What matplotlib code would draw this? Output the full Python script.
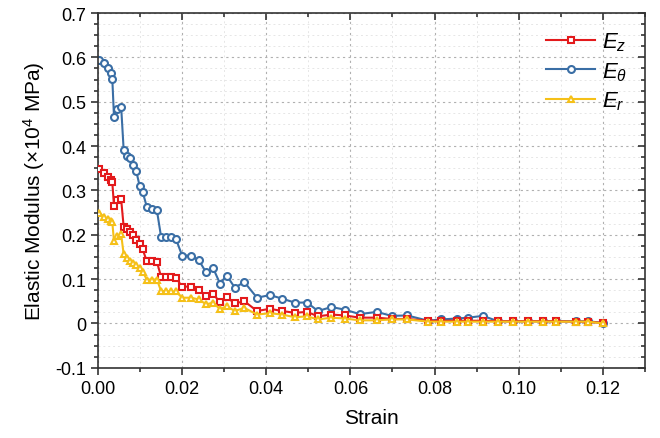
import numpy as np
import matplotlib
matplotlib.use('Agg')
import matplotlib.pyplot as plt
from matplotlib.ticker import MultipleLocator, AutoMinorLocator

FIG_SIZE = (6.6, 4.39)
DPI = 100
FONT_SIZE_TICKS = 13
FONT_SIZE_AXIS_LABEL = 15

# strain values shared by all three series
strain = [0.0003, 0.0014, 0.0024, 0.0030, 0.0034, 0.0038, 0.0044, 0.0055, 0.0061, 0.0068,
          0.0076, 0.0083, 0.0091, 0.0099, 0.0106, 0.0116, 0.0128, 0.0140, 0.0150, 0.0162,
          0.0173, 0.0185, 0.0200, 0.0221, 0.0240, 0.0257, 0.0274, 0.0290, 0.0306, 0.0325,
          0.0348, 0.0378, 0.0409, 0.0437, 0.0468, 0.0497, 0.0523, 0.0555, 0.0587, 0.0622,
          0.0663, 0.0698, 0.0735, 0.0785, 0.0816, 0.0853, 0.0880, 0.0915, 0.0951, 0.0986,
          0.1022, 0.1058, 0.1090, 0.1137, 0.1165, 0.1200]

E_z = [0.348, 0.339, 0.331, 0.324, 0.318, 0.265, 0.278, 0.280, 0.218, 0.212,
       0.206, 0.199, 0.189, 0.178, 0.168, 0.140, 0.140, 0.139, 0.105, 0.105,
       0.105, 0.103, 0.083, 0.083, 0.075, 0.062, 0.066, 0.048, 0.060, 0.045,
       0.050, 0.028, 0.033, 0.028, 0.024, 0.026, 0.016, 0.020, 0.018, 0.013,
       0.013, 0.010, 0.010, 0.006, 0.006, 0.006, 0.006, 0.006, 0.005, 0.005,
       0.005, 0.005, 0.005, 0.004, 0.004, 0.001]

E_theta = [0.593, 0.587, 0.576, 0.564, 0.551, 0.466, 0.484, 0.489, 0.391, 0.378,
           0.373, 0.358, 0.343, 0.310, 0.297, 0.263, 0.259, 0.255, 0.195, 0.194,
           0.194, 0.191, 0.153, 0.153, 0.142, 0.115, 0.124, 0.090, 0.108, 0.081,
           0.093, 0.058, 0.064, 0.056, 0.047, 0.047, 0.028, 0.037, 0.031, 0.021,
           0.026, 0.017, 0.018, 0.006, 0.009, 0.011, 0.013, 0.017, 0.005, 0.005,
           0.005, 0.005, 0.005, 0.005, 0.005, 0.001]

E_r = [0.250, 0.240, 0.235, 0.232, 0.228, 0.185, 0.197, 0.201, 0.156, 0.147,
       0.141, 0.137, 0.131, 0.124, 0.117, 0.099, 0.099, 0.099, 0.073, 0.073,
       0.072, 0.072, 0.058, 0.058, 0.054, 0.043, 0.047, 0.032, 0.039, 0.028,
       0.035, 0.020, 0.023, 0.020, 0.014, 0.016, 0.009, 0.013, 0.011, 0.007,
       0.007, 0.009, 0.009, 0.004, 0.004, 0.004, 0.004, 0.004, 0.004, 0.004,
       0.004, 0.004, 0.004, 0.004, 0.004, 0.000]

plt.rcParams['font.family'] = ['Liberation Sans', 'DejaVu Sans']
plt.rcParams['mathtext.fontset'] = 'custom'
plt.rcParams['mathtext.it'] = 'Liberation Sans:italic'
plt.rcParams['mathtext.rm'] = 'Liberation Sans'

fig = plt.figure(figsize=FIG_SIZE, dpi=DPI)
ax = fig.add_axes([0.1485, 0.16, 0.8285, 0.808])

mk = dict(markersize=5, markerfacecolor='white', markeredgewidth=1.5, linewidth=1.5)
ax.plot(strain, E_z, '-s', color='#e31a1c', label='$E_z$', zorder=3, **mk)
ax.plot(strain, E_theta, '-o', color='#3a6ea5', label=r'$E_\theta$', zorder=2, **mk)
ax.plot(strain, E_r, '-^', color='#f5c018', label='$E_r$', zorder=4, **mk)

ax.set_xlim(0, 0.13)
ax.set_ylim(-0.1, 0.7)
ax.xaxis.set_minor_locator(AutoMinorLocator(2))
ax.yaxis.set_minor_locator(AutoMinorLocator(4))
ax.set_xticks([0, 0.02, 0.04, 0.06, 0.08, 0.10, 0.12])
ax.set_xticklabels(['0.00', '0.02', '0.04', '0.06', '0.08', '0.10', '0.12'])
ax.set_yticks([-0.1, 0, 0.1, 0.2, 0.3, 0.4, 0.5, 0.6, 0.7])
ax.set_yticklabels(['-0.1', '0', '0.1', '0.2', '0.3', '0.4', '0.5', '0.6', '0.7'])

ax.grid(which='major', linestyle=(0, (2, 3)), color='#b0b0b0', linewidth=0.8)
ax.grid(which='minor', linestyle=(0, (2, 3)), color='#e6e6e6', linewidth=0.7)
ax.set_axisbelow(True)

ax.tick_params(which='both', direction='out', labelsize=FONT_SIZE_TICKS,
               color='#333333', width=1.2)
ax.tick_params(which='major', length=5)
ax.tick_params(which='minor', length=3)
# mirrored ticks on the top / right point inward
ax.tick_params(axis='y', which='both', right=True, labelright=False)
ax.tick_params(axis='x', which='both', top=True, labeltop=False)
for t in ax.yaxis.get_ticklines(minor=False)[1::2] + ax.yaxis.get_ticklines(minor=True)[1::2]:
    t.set_marker(0)
for t in ax.xaxis.get_ticklines(minor=False)[1::2] + ax.xaxis.get_ticklines(minor=True)[1::2]:
    t.set_marker(3)
for s in ax.spines.values():
    s.set_linewidth(1.2)
    s.set_color('#333333')

ax.set_xlabel('Strain', fontsize=FONT_SIZE_AXIS_LABEL, labelpad=8)
ax.set_ylabel(r'Elastic Modulus ($\times$10$^4$ MPa)', fontsize=FONT_SIZE_AXIS_LABEL, labelpad=6)

ax.legend(loc='upper right', frameon=False, fontsize=16, handlelength=2.2,
          handletextpad=0.3, labelspacing=0.3, borderaxespad=0.4)

fig.savefig('out.png', dpi=DPI)
plt.close()
